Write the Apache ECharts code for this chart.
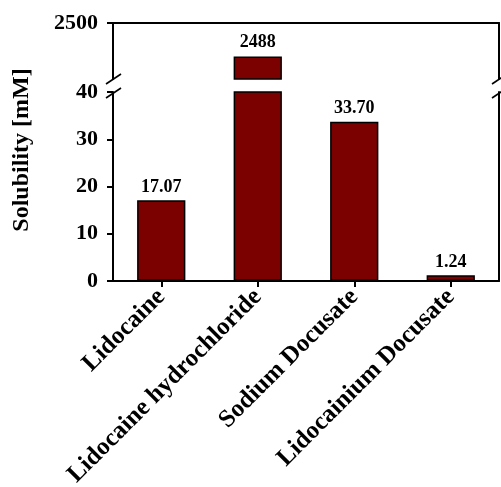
<!DOCTYPE html>
<html>
<head>
<meta charset="utf-8">
<script src="https://cdn.jsdelivr.net/npm/echarts@6/dist/echarts.min.js"></script>
<style>html,body{margin:0;padding:0;background:#fff}#c{width:501px;height:487px}</style>
</head>
<body>
<div id="c"></div>
<script>
const categories = ['Lidocaine', 'Lidocaine hydrochloride', 'Sodium Docusate', 'Lidocainium Docusate'];
const solubility = [17.07, 2488, 33.70, 1.24];
const lowerTicks = [0, 10, 20, 30, 40];
const upperTicks = [2500];
const yAxisTitle = 'Solubility [mM]';

const FONT = '"Liberation Serif", "Times New Roman", serif';
const BAR_COLOR = '#7b0000';
const lowerMax = 40, upperMin = 2480, upperMax = 2500;
const L = 113, R = 2;

const fmt = v => v > 100 ? String(Math.round(v)) : v.toFixed(2);

const axisLine = {show: true, lineStyle: {color: '#000', width: 2}};
const tickStyle = {fontFamily: FONT, fontWeight: 'bold', fontSize: 22, color: '#000'};
const catStyle = {fontFamily: FONT, fontWeight: 'bold', fontSize: 25, color: '#000'};

const chart = echarts.init(document.getElementById('c'));
const option = {
  animation: false,
  grid: [
    {left: L, right: R, top: 23, height: 56, outerBoundsMode: 'none', containLabel: false},
    {left: L, right: R, top: 92, height: 189, outerBoundsMode: 'none', containLabel: false}
  ],
  xAxis: [
    {type: 'category', gridIndex: 0, data: categories, position: 'top',
     axisLine: axisLine, axisTick: {show: false}, axisLabel: {show: false}, splitLine: {show: false}},
    {type: 'category', gridIndex: 1, data: categories, position: 'bottom',
     axisLine: axisLine,
     axisTick: {show: true, alignWithLabel: true, length: 6, lineStyle: {color: '#000', width: 2}},
     axisLabel: Object.assign({rotate: 45, margin: 12, interval: 0}, catStyle),
     splitLine: {show: false}}
  ],
  yAxis: [
    {type: 'value', gridIndex: 0, min: upperMin, max: upperMax, position: 'left',
     axisLine: axisLine,
     axisTick: {show: true, length: 6, customValues: upperTicks, lineStyle: {color: '#000', width: 2}},
     axisLabel: Object.assign({margin: 15, customValues: upperTicks, formatter: v => String(v)}, tickStyle),
     splitLine: {show: false}},
    {type: 'value', gridIndex: 1, min: 0, max: lowerMax, interval: 10, position: 'left',
     axisLine: axisLine,
     axisTick: {show: true, length: 6, customValues: lowerTicks, lineStyle: {color: '#000', width: 2}},
     axisLabel: Object.assign({margin: 15, customValues: lowerTicks, formatter: v => String(v)}, tickStyle),
     splitLine: {show: false}},
    {type: 'value', gridIndex: 0, min: upperMin, max: upperMax, position: 'right',
     axisLine: axisLine, axisTick: {show: false}, axisLabel: {show: false}, splitLine: {show: false}},
    {type: 'value', gridIndex: 1, min: 0, max: lowerMax, position: 'right',
     axisLine: axisLine, axisTick: {show: false}, axisLabel: {show: false}, splitLine: {show: false}}
  ],
  series: [
    {type: 'bar', xAxisIndex: 1, yAxisIndex: 1, barWidth: '50%', clip: true,
     data: solubility,
     itemStyle: {color: BAR_COLOR, borderColor: '#000', borderWidth: 1.5},
     label: {show: true, position: 'top', distance: 4, fontFamily: FONT, fontWeight: 'bold', fontSize: 18, color: '#000',
       formatter: p => p.value > lowerMax ? '' : fmt(p.value)}},
    {type: 'bar', xAxisIndex: 0, yAxisIndex: 0, barWidth: '50%', clip: true,
     data: solubility.map(v => v > lowerMax ? v : '-'),
     itemStyle: {color: BAR_COLOR, borderColor: '#000', borderWidth: 1.5},
     label: {show: true, position: 'top', distance: 5, fontFamily: FONT, fontWeight: 'bold', fontSize: 18, color: '#000',
       formatter: p => fmt(p.value)}}
  ]
};
chart.setOption(option);

// axis-break marks and y-axis title
const upBottom = chart.convertToPixel({yAxisIndex: 0}, upperMin);
const lowTop = chart.convertToPixel({yAxisIndex: 1}, lowerMax);
const xr = 501 - R;
function slashes(x) {
  const s = {stroke: '#000', lineWidth: 1.6};
  return [
    {type: 'line', shape: {x1: x - 7, y1: upBottom + 5, x2: x + 8, y2: upBottom - 5}, style: s},
    {type: 'line', shape: {x1: x - 7, y1: lowTop + 6, x2: x + 8, y2: lowTop - 4}, style: s}
  ];
}
chart.setOption({
  graphic: [
    ...slashes(L), ...slashes(xr),
    {type: 'text', x: 22, y: 150, rotation: Math.PI / 2,
     style: {text: yAxisTitle, font: 'bold 24px ' + FONT, fill: '#000', align: 'center', verticalAlign: 'middle'}}
  ]
});
</script>
</body>
</html>
